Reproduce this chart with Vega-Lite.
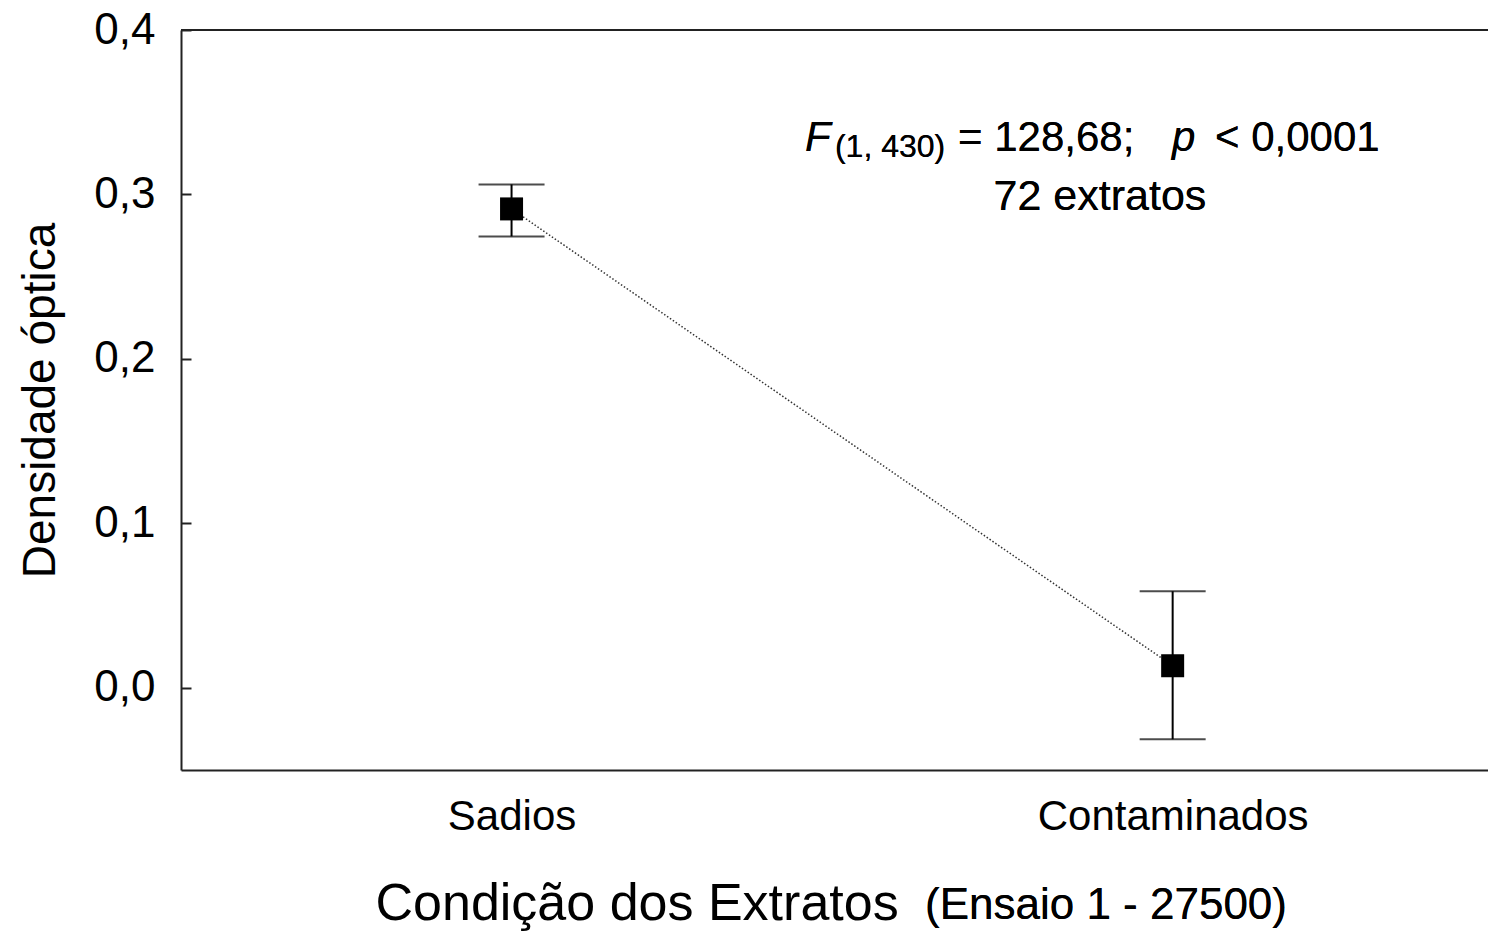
{
  "$schema": "https://vega.github.io/schema/vega-lite/v6.json",
  "width": 1307,
  "height": 740,
  "autosize": {"type": "none"},
  "padding": {"left": 181, "top": 30, "right": 0, "bottom": 166},
  "background": "white",
  "config": {"view": {"stroke": null}, "font": "Liberation Sans", "axis": {"grid": false}, "text": {"font": "Liberation Sans", "color": "black"}},
  "data": {"values": [
    {"condicao": "Sadios", "pos": 1, "media": 0.2912, "inferior": 0.2745, "superior": 0.3061},
    {"condicao": "Contaminados", "pos": 2, "media": 0.0134, "inferior": -0.0313, "superior": 0.0587}
  ]},
  "layer": [
    {
      "mark": {"type": "line", "color": "#333", "strokeWidth": 1.5, "strokeDash": [1.5, 2]},
      "encoding": {
        "x": {"field": "pos", "type": "quantitative",
          "scale": {"domain": [0.5, 2.477], "nice": false, "zero": false},
          "axis": {"values": [1, 2], "labelExpr": "datum.value == 1 ? 'Sadios' : 'Contaminados'", "ticks": false,
            "labelFontSize": 42, "labelPadding": 59, "labelBaseline": "alphabetic", "labelColor": "black", "labelFlush": false, "labelLimit": 0, "labelOverlap": false,
            "domainColor": "#222", "domainWidth": 2,
            "title": "Condição dos Extratos", "titleFontSize": 52, "titleFontWeight": "normal", "titleColor": "black",
            "titleX": 194, "titleY": 149, "titleAlign": "left", "titleBaseline": "alphabetic", "titleLimit": 0}},
        "y": {"field": "media", "type": "quantitative",
          "scale": {"domain": [-0.05, 0.4], "nice": false, "zero": false},
          "axis": {"values": [0, 0.1, 0.2, 0.3, 0.4], "labelExpr": "replace(format(datum.value, '.1f'), '.', ',')",
            "labelFontSize": 44, "labelColor": "black", "labelPadding": 36, "labelFlush": false, "labelOverlap": false,
            "tickSize": -10, "tickWidth": 2, "tickColor": "#222", "domainColor": "#222", "domainWidth": 2,
            "title": "Densidade óptica", "titleFontSize": 46, "titleFontWeight": "normal", "titleColor": "black",
            "titleX": -141, "titleY": 370, "titleAngle": -90, "titleAlign": "center", "titleBaseline": "middle", "titleLimit": 0}}
      }
    },
    {
      "mark": {"type": "rule", "color": "#222", "strokeWidth": 2},
      "encoding": {"y": {"datum": 0.4}}
    },
    {
      "mark": {"type": "rule", "color": "black", "strokeWidth": 2},
      "encoding": {
        "x": {"field": "pos", "type": "quantitative"},
        "y": {"field": "inferior", "type": "quantitative"},
        "y2": {"field": "superior"}
      }
    },
    {
      "mark": {"type": "tick", "orient": "horizontal", "color": "black", "thickness": 2, "size": 66},
      "encoding": {
        "x": {"field": "pos", "type": "quantitative"},
        "y": {"field": "superior", "type": "quantitative"}
      }
    },
    {
      "mark": {"type": "tick", "orient": "horizontal", "color": "black", "thickness": 2, "size": 66},
      "encoding": {
        "x": {"field": "pos", "type": "quantitative"},
        "y": {"field": "inferior", "type": "quantitative"}
      }
    },
    {
      "mark": {"type": "point", "shape": "square", "filled": true, "color": "black", "size": 529, "opacity": 1},
      "encoding": {
        "x": {"field": "pos", "type": "quantitative"},
        "y": {"field": "media", "type": "quantitative"}
      }
    },
    {
      "mark": {"type": "text", "fontSize": 42, "fontStyle": "italic", "align": "left", "baseline": "alphabetic"},
      "encoding": {"x": {"datum": 1.4439}, "y": {"datum": 0.3267}, "text": {"value": "F"}}
    },
    {
      "mark": {"type": "text", "fontSize": 32, "align": "left", "baseline": "alphabetic"},
      "encoding": {"x": {"datum": 1.4892}, "y": {"datum": 0.3225}, "text": {"value": "(1, 430)"}}
    },
    {
      "mark": {"type": "text", "fontSize": 42, "align": "left", "baseline": "alphabetic"},
      "encoding": {"x": {"datum": 1.6753}, "y": {"datum": 0.3267}, "text": {"value": "= 128,68;"}}
    },
    {
      "mark": {"type": "text", "fontSize": 42, "fontStyle": "italic", "align": "left", "baseline": "alphabetic"},
      "encoding": {"x": {"datum": 1.999}, "y": {"datum": 0.3267}, "text": {"value": "p"}}
    },
    {
      "mark": {"type": "text", "fontSize": 42, "align": "left", "baseline": "alphabetic"},
      "encoding": {"x": {"datum": 2.064}, "y": {"datum": 0.3267}, "text": {"value": "< 0,0001"}}
    },
    {
      "mark": {"type": "text", "fontSize": 43, "align": "center", "baseline": "alphabetic"},
      "encoding": {"x": {"datum": 1.89}, "y": {"datum": 0.2903}, "text": {"value": "72 extratos"}}
    },
    {
      "mark": {"type": "text", "fontSize": 44, "align": "left", "baseline": "alphabetic"},
      "encoding": {"x": {"datum": 1.6254}, "y": {"datum": -0.1406}, "text": {"value": "(Ensaio 1 - 27500)"}}
    }
  ]
}
